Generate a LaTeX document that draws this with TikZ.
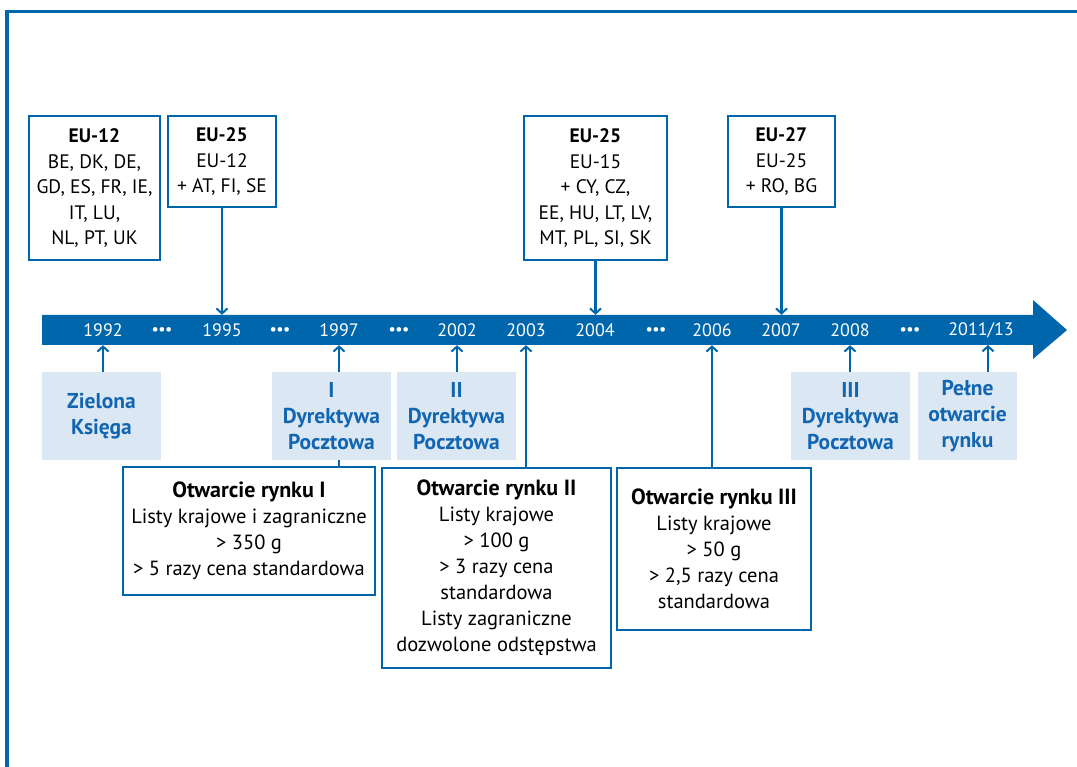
\documentclass[tikz,border=0pt]{standalone}
\usepackage{fontspec}
\setmainfont{PT Sans}
\usetikzlibrary{arrows.meta}
\definecolor{eublue}{RGB}{0,102,172}
\definecolor{lightbox}{RGB}{219,232,244}
\definecolor{lighttext}{RGB}{18,101,176}
\newcommand{\headtxt}[1]{{\fontsize{22}{26}\selectfont\bfseries #1}}
\tikzset{
  topbox/.style={draw=eublue, line width=2.8pt, fill=white, inner sep=0pt, align=center,
    font=\fontsize{19.5}{25.5}\selectfont},
  botbox/.style={topbox, font=\fontsize{20.5}{26}\selectfont},
  lbox/.style={fill=lightbox, inner sep=0pt, align=center, text=lighttext,
    font=\fontsize{21.5}{26}\selectfont\bfseries},
  yearlbl/.style={inner sep=0pt, minimum height=30pt, text=white,
    font=\fontsize{18}{20}\selectfont},
  dotslbl/.style={inner sep=0pt, text=white, font=\fontsize{15}{16}\selectfont\bfseries},
  conn/.style={draw=eublue, line width=2.2pt},
  arr/.style={conn, -{Straight Barb[length=5pt,width=11pt,line width=2pt]}}
}
\begin{document}
\begin{tikzpicture}[x=1pt,y=-1pt]
\useasboundingbox (0,0) rectangle (1077,767);
% frame
\draw[eublue, line width=3.2pt] (7,767) -- (7,11.5) -- (1077,11.5);
% timeline bar
\fill[eublue] (42,315) -- (1033,315) -- (1033,300) -- (1067,330) -- (1033,359) -- (1033,345) -- (42,345) -- cycle;
% years
\node[yearlbl] (y1992) at (103,330) {1992};
\node[yearlbl] (y1995) at (222,330) {1995};
\node[yearlbl] (y1997) at (339,330) {1997};
\node[yearlbl] (y2002) at (457,330) {2002};
\node[yearlbl] (y2003) at (526,330) {2003};
\node[yearlbl] (y2004) at (595,330) {2004};
\node[yearlbl] (y2006) at (712,330) {2006};
\node[yearlbl] (y2007) at (781,330) {2007};
\node[yearlbl] (y2008) at (850,330) {2008};
\node[yearlbl] (y2011) at (981,330) {2011/13};
\coordinate (a2011) at (988,345);
\node[dotslbl] (d1) at (162,331) {•••};
\node[dotslbl] (d2) at (280,331) {•••};
\node[dotslbl] (d3) at (399,331) {•••};
\node[dotslbl] (d4) at (656,331) {•••};
\node[dotslbl] (d5) at (910,331) {•••};
% top boxes
\node[topbox, minimum width=131pt, minimum height=144pt] (eu12) at (94.5,188)
  {\textbf{EU-12}\\BE, DK, DE,\\GD, ES, FR, IE,\\IT, LU,\\NL, PT, UK};
\node[topbox, minimum width=108pt, minimum height=91pt] (eu25a) at (222,161.5)
  {\textbf{EU-25}\\EU-12\\+ AT, FI, SE};
\node[topbox, minimum width=143pt, minimum height=144pt] (eu25b) at (595.5,188)
  {\textbf{EU-25}\\EU-15\\+ CY, CZ,\\EE, HU, LT, LV,\\MT, PL, SI, SK};
\node[topbox, minimum width=107pt, minimum height=91pt] (eu27) at (781.5,161.5)
  {\textbf{EU-27}\\EU-25\\+ RO, BG};
% light boxes
\node[lbox, minimum width=119pt, minimum height=88pt] (zielona) at (101.5,416) {Zielona\\Księga};
\node[lbox, minimum width=119pt, minimum height=88pt] (dyr1) at (331.5,416) {I\\Dyrektywa\\Pocztowa};
\node[lbox, minimum width=119pt, minimum height=88pt] (dyr2) at (456.5,416) {II\\Dyrektywa\\Pocztowa};
\node[lbox, minimum width=119pt, minimum height=88pt] (dyr3) at (850.5,416) {III\\Dyrektywa\\Pocztowa};
\node[lbox, minimum width=99pt, minimum height=88pt] (pelne) at (967.5,416) {Pełne\\otwarcie\\rynku};
% bottom boxes
\node[botbox, minimum width=252pt, minimum height=128pt] (otw1) at (249,531)
  {\headtxt{Otwarcie rynku I}\\Listy krajowe i zagraniczne\\> 350 g\\> 5 razy cena standardowa};
\node[botbox, minimum width=229pt, minimum height=200pt] (otw2) at (496.5,568)
  {\headtxt{Otwarcie rynku II}\\Listy krajowe\\> 100 g\\> 3 razy cena\\standardowa\\Listy zagraniczne\\dozwolone odstępstwa};
\node[botbox, minimum width=194pt, minimum height=162pt] (otw3) at (714,549)
  {\headtxt{Otwarcie rynku III}\\Listy krajowe\\> 50 g\\> 2,5 razy cena\\standardowa};
% connectors from top
\draw[arr] (eu25a.south) -- (eu25a.south |- y1995.north);
\draw[arr] (eu25b.south) -- (eu25b.south |- y2004.north);
\draw[arr] (eu27.south) -- (eu27.south |- y2007.north);
% connectors from bottom
\draw[arr] (zielona.north -| y1992) -- (y1992.south);
\draw[arr] (dyr1.north -| y1997) -- (y1997.south);
\draw[conn] (otw1.north -| y1997) -- (dyr1.south -| y1997);
\draw[arr] (dyr2.north -| y2002) -- (y2002.south);
\draw[arr] (otw2.north -| y2003) -- (y2003.south);
\draw[arr] (otw3.north -| y2006) -- (y2006.south);
\draw[arr] (dyr3.north -| y2008) -- (y2008.south);
\draw[arr] (pelne.north -| a2011) -- (a2011);
\end{tikzpicture}
\end{document}
